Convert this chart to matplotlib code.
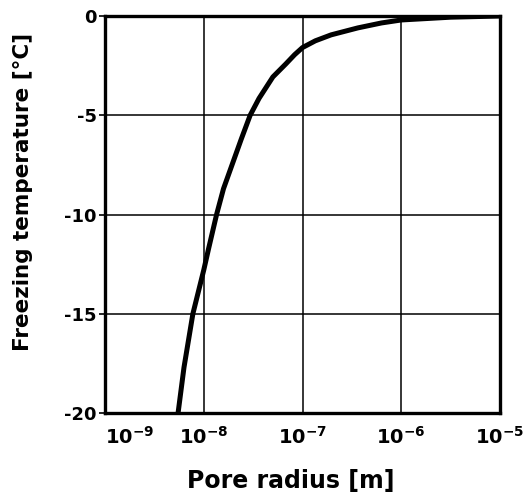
#!/usr/bin/env python3
"""Freezing temperature of pore water versus pore radius (log scale)."""

import matplotlib
matplotlib.use("Agg")
import matplotlib.pyplot as plt
import numpy as np

# ---------------------------------------------------------------------------
# Data: freezing point depression (log10 radius in m)
# ---------------------------------------------------------------------------

log_radius = [-8.26, -8.20, -8.11, -8.00, -7.95, -7.87, -7.80, -7.71,
              -7.62, -7.53, -7.44, -7.30, -7.17, -7.08, -7.00, -6.87,
              -6.71, -6.44, -6.20, -6.00, -5.50, -5.00]
freezing_temp = [-20.0, -17.7, -15.0, -12.8, -11.7, -10.0, -8.7, -7.45,
                 -6.2, -5.0, -4.15, -3.07, -2.42, -1.95, -1.59, -1.25,
                 -0.95, -0.6, -0.35, -0.2, -0.06, 0.0]

x_ticks = [1e-9, 1e-8, 1e-7, 1e-6, 1e-5]
x_ticklabels = [r"$10^{-9}$", r"$10^{-8}$", r"$10^{-7}$", r"$10^{-6}$", r"$10^{-5}$"]
y_ticks = [0, -5, -10, -15, -20]
y_ticklabels = ["0", "-5", "-10", "-15", "-20"]

STYLE = {
    "font.family": "DejaVu Sans",
    "font.weight": "bold",
    "axes.labelweight": "bold",
    "mathtext.default": "bf",
}


def main():
    pore_radius = np.power(10.0, log_radius)

    with plt.rc_context(STYLE):
        fig = plt.figure(figsize=(5.31, 4.99), dpi=100)
        ax = fig.add_axes([105 / 531, 1 - 413 / 499, 395 / 531, 397 / 499])

        ax.set_xscale("log")
        ax.set_xlim(1e-9, 1e-5)
        ax.set_ylim(-20, 0)

        ax.plot(pore_radius, freezing_temp, color="black", lw=3.6,
                solid_joinstyle="round", zorder=3)

        ax.set_xticks(x_ticks)
        ax.set_xticklabels(x_ticklabels)
        ax.xaxis.set_minor_locator(matplotlib.ticker.NullLocator())
        # first decade label sits to the right of the corner
        ax.get_xticklabels()[0].set_horizontalalignment("left")
        ax.set_yticks(y_ticks)
        ax.set_yticklabels(y_ticklabels)

        ax.grid(True, which="major", color="black", lw=1.1)
        ax.tick_params(axis="x", length=0, pad=9, labelsize=14)
        ax.tick_params(axis="y", length=4, width=1.2, pad=2, labelsize=13)

        for spine in ax.spines.values():
            spine.set_linewidth(2.4)

        ax.set_xlabel("Pore radius [m]", fontsize=17)
        ax.xaxis.set_label_coords(0.471, -0.14)
        ax.set_ylabel("Freezing temperature [°C]", fontsize=15.5)
        ax.yaxis.set_label_coords(-0.182, 0.557)

        fig.savefig("out.png", dpi=100)
        plt.close(fig)


if __name__ == "__main__":
    main()
